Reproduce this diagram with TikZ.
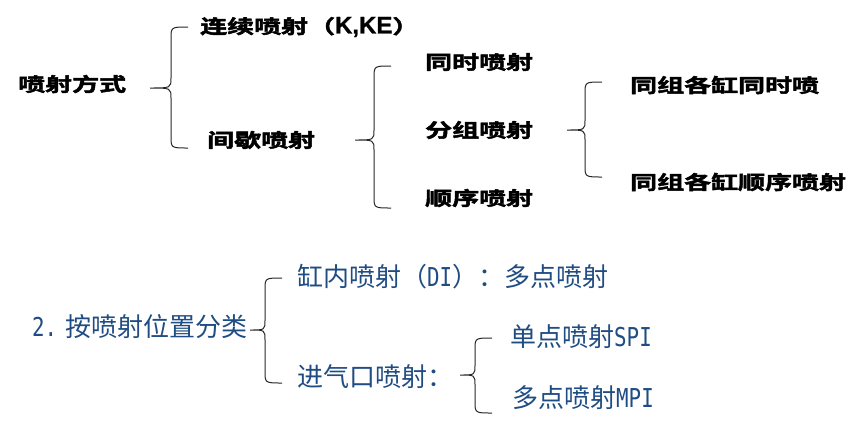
\documentclass[tikz,border=0pt]{standalone}
\usepackage{fontspec}
\newfontfamily\cjkb[FakeStretch=1.42,FakeBold=2.5]{Noto Sans CJK SC Bold}
\newfontfamily\latb[FakeBold=1]{Liberation Sans Bold}
\newfontfamily\cjkr{Noto Sans CJK SC}
\newfontfamily\monor[FakeStretch=0.8]{DejaVu Sans Mono}
\definecolor{navy}{RGB}{31,76,130}
\tikzset{
  topt/.style={anchor=west,inner sep=0pt,font=\cjkb\fontsize{19}{19}\selectfont,text=black},
  bott/.style={anchor=west,inner sep=0pt,font=\cjkr\fontsize{26}{26}\selectfont,text=navy},
  brace/.style={draw=black!85,line width=1pt}
}
\newcommand\brc[5]{% tip x, tip y, vertical x, top y, bottom y ; ends at #3+17
  \draw[brace] ({#3+17},#4) .. controls (#3,#4) .. (#3,{#4+12}) -- (#3,{#2-10})
    .. controls (#3,#2) .. (#1,#2) .. controls (#3,#2) .. (#3,{#2+10})
    -- (#3,{#5-12}) .. controls (#3,#5) .. ({#3+17},#5);}
\begin{document}
\begin{tikzpicture}[x=1pt,y=-1pt]
\useasboundingbox (0,0) rectangle (861,429);
% top part
\node[topt] (pfs) at (18,84) {喷射方式};
\node[topt] (lx) at (200,27) {连续喷射（{\latb\fontsize{24}{24}\selectfont K,KE}）};
\node[topt] (jx) at (207,140) {间歇喷射};
\node[topt] (ts) at (425,62) {同时喷射};
\node[topt] (fz) at (425,130) {分组喷射};
\node[topt] (sx) at (425,198) {顺序喷射};
\node[topt] (tz1) at (630,85) {同组各缸同时喷};
\node[topt] (tz2) at (630,182) {同组各缸顺序喷射};
\brc{150}{88}{171}{27}{148}
\brc{355}{140}{374}{66}{208}
\brc{567}{130}{585}{82}{177}
% bottom part
\node[bott] (wz) at (32,327) {{\monor 2.} 按喷射位置分类};
\node[bott] (gn) at (297,277) {缸内喷射（{\monor DI}）：多点喷射};
\node[bott] (jq) at (297,377) {进气口喷射：};
\node[bott] (dd) at (510,337) {单点喷射{\monor SPI}};
\node[bott] (ddm) at (512,398) {多点喷射{\monor MPI}};
\brc{250}{330}{265}{278}{383}
\brc{460}{375}{475}{338}{413}
\end{tikzpicture}
\end{document}
